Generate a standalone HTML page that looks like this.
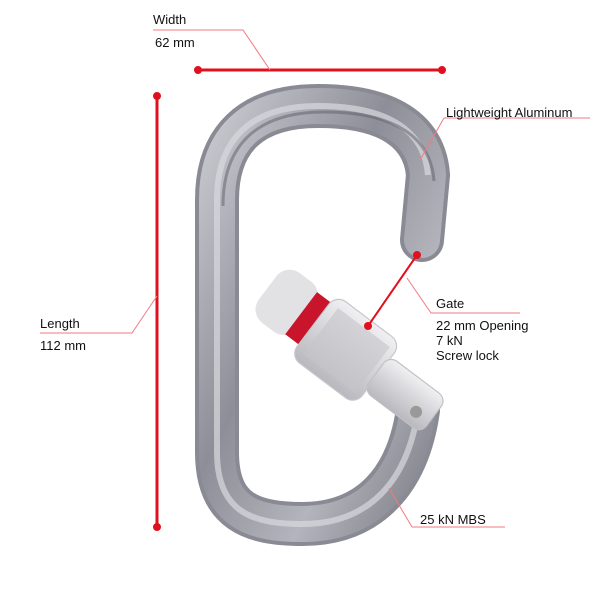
<!DOCTYPE html>
<html><head><style>
html,body{margin:0;padding:0;background:#fff;width:600px;height:600px;overflow:hidden}
</style></head><body>
<svg width="600" height="600" viewBox="0 0 600 600" xmlns="http://www.w3.org/2000/svg" font-family="Liberation Sans, sans-serif">
<defs>
<linearGradient id="metal" x1="0" y1="0" x2="1" y2="1">
<stop offset="0" stop-color="#c8c8cf"/><stop offset="0.4" stop-color="#8e8e98"/><stop offset="0.7" stop-color="#b4b4bc"/><stop offset="1" stop-color="#7c7c86"/>
</linearGradient>
<linearGradient id="gate" x1="0" y1="0" x2="0" y2="1">
<stop offset="0" stop-color="#f0f0f2"/><stop offset="0.5" stop-color="#d4d4d8"/><stop offset="1" stop-color="#b8b8be"/>
</linearGradient>
</defs>
<path d="M422 240 L428 175 C424 120 370 106 318 106 C250 106 217 140 217 200 L217 452 C217 512 252 524 302 524 C370 524 408 480 418 410" fill="none" stroke="#8a8a94" stroke-width="44" stroke-linecap="round"/>
<path d="M422 240 L428 175 C424 120 370 106 318 106 C250 106 217 140 217 200 L217 452 C217 512 252 524 302 524 C370 524 408 480 418 410" fill="none" stroke="url(#metal)" stroke-width="36" stroke-linecap="round"/>
<path d="M428 175 C424 120 370 106 318 106 C250 106 217 140 217 200 L217 452 C217 512 252 524 302 524 C370 524 408 480 418 410" fill="none" stroke="#d8d8de" stroke-width="6" opacity="0.7"/>
<path d="M428 175 C424 120 370 106 318 106 C250 106 217 140 217 200" fill="none" stroke="#5e5e68" stroke-width="3" opacity="0.5" transform="translate(6,6)"/>
<g transform="translate(338,344) rotate(37) scale(1.2)">
<rect x="-75" y="-28" width="40" height="52" rx="14" fill="#e2e2e4"/>
<rect x="-40" y="-24" width="16" height="44" fill="#c8152c"/>
<rect x="-26" y="-32" width="68" height="64" rx="10" fill="url(#gate)" stroke="#c6c6cc"/>
<rect x="-18" y="-24" width="54" height="48" fill="#c4c4ca" opacity="0.6"/>
<rect x="40" y="-18" width="60" height="36" rx="8" fill="url(#gate)" stroke="#c0c0c6"/>
<circle cx="86" cy="6" r="5" fill="#999"/>
</g>
<g stroke="#e0101e" fill="#e0101e">
<line x1="198" y1="70" x2="442" y2="70" stroke-width="3"/>
<circle cx="198" cy="70" r="3.5"/><circle cx="442" cy="70" r="3.5"/>
<line x1="157" y1="96" x2="157" y2="527" stroke-width="3"/>
<circle cx="157" cy="96" r="3.5"/><circle cx="157" cy="527" r="3.5"/>
<line x1="417" y1="255" x2="368" y2="326" stroke-width="2"/>
<circle cx="417" cy="255" r="3.5"/><circle cx="368" cy="326" r="3.5"/>
</g>
<g stroke="#f07a80" stroke-width="1" fill="none">
<polyline points="153,30 243,30 270,70"/>
<polyline points="40,333 132,333 157,296"/>
<polyline points="590,118 444,118 420,160"/>
<polyline points="407,278 431,313 520,313"/>
<polyline points="389,488 412,527 505,527"/>
</g>
<g font-size="13" fill="#111">
<text x="153" y="24">Width</text>
<text x="155" y="47">62 mm</text>
<text x="40" y="328">Length</text>
<text x="40" y="350">112 mm</text>
<text x="446" y="117">Lightweight Aluminum</text>
<text x="436" y="308">Gate</text>
<text x="436" y="330">22 mm Opening</text>
<text x="436" y="345">7 kN</text>
<text x="436" y="360">Screw lock</text>
<text x="420" y="524">25 kN MBS</text>
</g>
</svg>
</body></html>
